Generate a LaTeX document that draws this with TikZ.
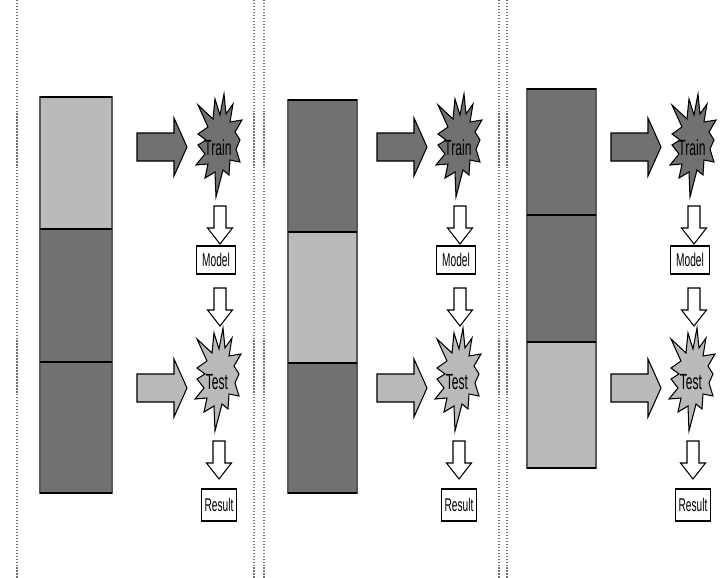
\documentclass[tikz,border=0pt]{standalone}
\usepackage{fontspec}
\newfontfamily\narrowsans[FakeStretch=0.55]{Liberation Sans}
\usetikzlibrary{positioning}

\definecolor{darkpart}{HTML}{717171}
\definecolor{lightpart}{HTML}{BABABA}

\tikzset{
  part/.style={draw=black!65, line width=0.6pt},
  splitline/.style={line width=1.7pt},
  sep/.style={densely dotted, black!55, line width=0.7pt},
  outline/.style={draw=black, line width=0.6pt},
  resbox/.style={draw, fill=white, line width=0.6pt, font=\narrowsans\fontsize{10.5}{11}\selectfont, inner sep=0pt},
  burstlabel/.style={font=\narrowsans\fontsize{12.5}{13}\selectfont, inner sep=0pt},
  bigarrow/.pic={
    \path[outline, pic actions] (0,-14) -- (37,-14) -- (37,-29) -- (50,0)
      -- (37,29) -- (37,14) -- (0,14) -- cycle;
  },
  downarrow/.pic={
    \path[outline, fill=white] (-6,0) -- (6,0) -- (6,22) -- (12.5,22) -- (0,38)
      -- (-12.5,22) -- (-6,22) -- cycle;
  },
  burst/.pic={
    \path[outline, pic actions] (6,-53) -- (8,-33) -- (15,-43) -- (12,-25) -- (24,-27)
      -- (17,-15) -- (22,-7) -- (18,2) -- (22,15) -- (12,13) -- (11,28) -- (5,23)
      -- (-2,50) -- (-3,25) -- (-13,31) -- (-10,17) -- (-22,18) -- (-13,7)
      -- (-20,-2) -- (-12,-7) -- (-20,-13) -- (-10,-20) -- (-20,-42) -- (-5,-28)
      -- (-3,-48) -- (2,-32) -- cycle;
  }
}

\begin{document}
\begin{tikzpicture}[x=0.02cm, y=-0.02cm]
  \useasboundingbox (0,0) rectangle (721,578);

  % separators
  \foreach \x in {17, 254, 264, 499, 507} {
    \draw[sep] (\x,0) -- (\x,578);
  }

  \foreach \p/\sx/\bl/\br/\bt/\ba/\bb/\bz/\ca/\cb/\cc in {%
      1/218/40/112/97/229/362/493/lightpart/darkpart/darkpart,
      2/458/288/357/100/232/363/493/darkpart/lightpart/darkpart,
      3/692/527/596/89/215/342/468/darkpart/darkpart/lightpart} {
    % data folds
    \path[part, fill=\ca] (\bl,\bt) rectangle (\br,\ba);
    \path[part, fill=\cb] (\bl,\ba) rectangle (\br,\bb);
    \path[part, fill=\cc] (\bl,\bb) rectangle (\br,\bz);
    \foreach \y in {\bt, \ba, \bb, \bz} {
      \draw[splitline] (\bl,\y) -- (\br,\y);
    }

    % train and test
    \pic[fill=darkpart] at (\sx-81,147) {bigarrow};
    \pic[fill=lightpart] at (\sx-81,388) {bigarrow};
    \pic[fill=darkpart] at (\sx,147) {burst};
    \pic[fill=lightpart] at (\sx-1,381) {burst};
    \node[burstlabel] (train\p) at (\sx,148) {Train};
    \node[burstlabel] (test\p) at (\sx-1,382) {Test};

    \node[resbox, minimum width=0.78cm, minimum height=0.56cm] (model\p) at (\sx-2,260) {Model};
    \node[resbox, minimum width=0.70cm, minimum height=0.64cm] (result\p) at (\sx+1,505) {Result};

    \pic at (\sx+2,206) {downarrow};
    \pic at (\sx+2,288) {downarrow};
    \pic at (\sx+1,441) {downarrow};
  }
\end{tikzpicture}
\end{document}
